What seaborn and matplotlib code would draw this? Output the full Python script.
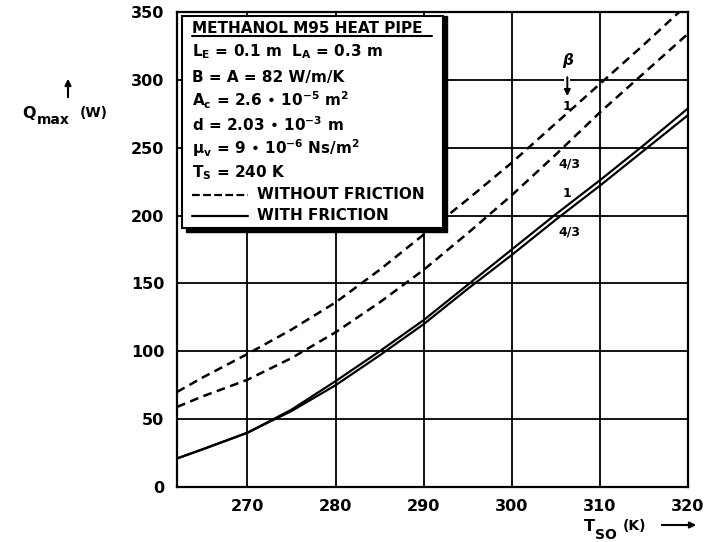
import numpy as np
import pandas as pd
import matplotlib.pyplot as plt
import seaborn as sns
from matplotlib.patches import Rectangle

# Values (T_SO in K, Q_max in W)
t_so = [262, 265, 270, 275, 280, 285, 290, 295, 300, 305, 310, 315, 320]
q_nofric_b1 = [70, 81, 98, 116, 136, 160, 186, 212, 239, 268, 297, 326, 356]
q_nofric_b43 = [59, 67, 79, 95, 114, 136, 160, 187, 215, 245, 276, 305, 334]
q_fric_b1 = [21, 28, 40, 57, 78, 100, 123, 149, 175, 201, 226, 252, 279]
q_fric_b43 = [21, 28, 40, 56, 75, 97, 120, 146, 171, 197, 222, 248, 274]

x_ticks = [270, 280, 290, 300, 310, 320]
y_ticks = [0, 50, 100, 150, 200, 250, 300, 350]

info_lines = [
    r"L$_E$ = 0.1 m  L$_A$ = 0.3 m",
    "B = A = 82 W/m/K",
    r"A$_c$ = 2.6 • 10$^{-5}$ m$^2$",
    r"d = 2.03 • 10$^{-3}$ m",
    r"μ$_v$ = 9 • 10$^{-6}$ Ns/m$^2$",
    r"T$_S$ = 240 K",
]

sns.set_style("white")
plt.rcParams['font.family'] = ['DejaVu Sans']
plt.rcParams['font.weight'] = 'bold'
plt.rcParams['text.color'] = 'black'
plt.rcParams['xtick.color'] = 'black'
plt.rcParams['ytick.color'] = 'black'
plt.rcParams['mathtext.fontset'] = 'dejavusans'
plt.rcParams['mathtext.default'] = 'bf'

fig, ax = plt.subplots(figsize=(7.19, 5.42), dpi=100)
fig.subplots_adjust(left=0.2462, right=0.9569, bottom=0.1015, top=0.9779)

# curves
for q in [q_nofric_b1, q_nofric_b43]:
    sns.lineplot(x=t_so, y=q, ax=ax, color='black', lw=1.8,
                 linestyle=(0, (3.5, 2.2)), zorder=3)
for q in [q_fric_b1, q_fric_b43]:
    sns.lineplot(x=t_so, y=q, ax=ax, color='black', lw=1.6, zorder=3)

ax.set_xlim(262, 320)
ax.set_ylim(0, 350)
ax.set_xticks(x_ticks)
ax.set_yticks(y_ticks)
ax.grid(True, color='black', lw=1.3)
ax.set_axisbelow(True)
for s in ax.spines.values():
    s.set_color('black')
    s.set_linewidth(1.6)
ax.tick_params(length=0, labelsize=11.5, pad=9, colors='black')
ax.set_xlabel("")
ax.set_ylabel("")

# beta labels
ax.text(306.3, 314, "β", ha='center', va='center', fontsize=11, style='italic')
ax.annotate("", xy=(306.3, 286), xytext=(306.3, 304),
            arrowprops=dict(arrowstyle='-|>', color='black', lw=1.4,
                            mutation_scale=9))
ax.text(306.3, 299, " ", ha='center', va='center', fontsize=9,
        bbox=dict(facecolor='white', edgecolor='none', pad=0.5), zorder=2)
ax.text(306.3, 280, "1", ha='center', va='center', fontsize=9)
ax.text(306.5, 238, "4/3", ha='center', va='center', fontsize=9)
ax.text(306.3, 216, "1", ha='center', va='center', fontsize=9)
ax.text(306.5, 188, "4/3", ha='center', va='center', fontsize=9)

# info box with shadow
ax.add_patch(Rectangle((0.0176, 0.537), 0.5107, 0.4546, transform=ax.transAxes,
                       facecolor='black', edgecolor='black', zorder=5, clip_on=False))
ax.add_patch(Rectangle((0.0098, 0.545), 0.5107, 0.4466, transform=ax.transAxes,
                       facecolor='white', edgecolor='black', lw=1.5, zorder=6,
                       clip_on=False))
ax.text(0.029, 0.966, "METHANOL M95 HEAT PIPE", transform=ax.transAxes,
        fontsize=11, va='center', ha='left', zorder=7)
ax.plot([0.029, 0.499], [0.949, 0.949], transform=ax.transAxes, color='black',
        lw=1.5, zorder=7, clip_on=False)
line_y = [0.916, 0.863, 0.815, 0.762, 0.714, 0.661]
for txt, yy in zip(info_lines, line_y):
    ax.text(0.029, yy, txt, transform=ax.transAxes, fontsize=11,
            va='center', ha='left', zorder=7)
ax.plot([0.029, 0.139], [0.615, 0.615], transform=ax.transAxes, color='black',
        lw=1.6, linestyle=(0, (3.5, 1.5)), zorder=7)
ax.plot([0.029, 0.139], [0.571, 0.571], transform=ax.transAxes, color='black',
        lw=1.6, zorder=7)
ax.text(0.156, 0.615, "WITHOUT FRICTION", transform=ax.transAxes, fontsize=11,
        va='center', ha='left', zorder=7)
ax.text(0.156, 0.571, "WITH FRICTION", transform=ax.transAxes, fontsize=11,
        va='center', ha='left', zorder=7)

# y label: Q_max (W) with arrow above
H = 542
W = 719
fig.text(22 / W, 1 - 118 / H, "Q", ha='left', va='baseline', fontsize=11.5)
fig.text(37 / W, 1 - 124 / H, "max", ha='left', va='baseline', fontsize=10)
fig.text(80 / W, 1 - 117 / H, "(W)", ha='left', va='baseline', fontsize=10)
ax.annotate("", xy=(68 / W, 1 - 76 / H), xytext=(68 / W, 1 - 100 / H),
            xycoords='figure fraction', textcoords='figure fraction',
            arrowprops=dict(arrowstyle='-|>', color='black', lw=1.5,
                            mutation_scale=9))

# x label: T_SO (K) with arrow
fig.text(584 / W, 1 - 531 / H, "T", ha='left', va='baseline', fontsize=11.5)
fig.text(595 / W, 1 - 539 / H, "SO", ha='left', va='baseline', fontsize=10)
fig.text(623 / W, 1 - 530 / H, "(K)", ha='left', va='baseline', fontsize=10)
ax.annotate("", xy=(699 / W, 1 - 525 / H), xytext=(659 / W, 1 - 525 / H),
            xycoords='figure fraction', textcoords='figure fraction',
            arrowprops=dict(arrowstyle='-|>', color='black', lw=1.5,
                            mutation_scale=9))

plt.savefig("out.png", dpi=100)
